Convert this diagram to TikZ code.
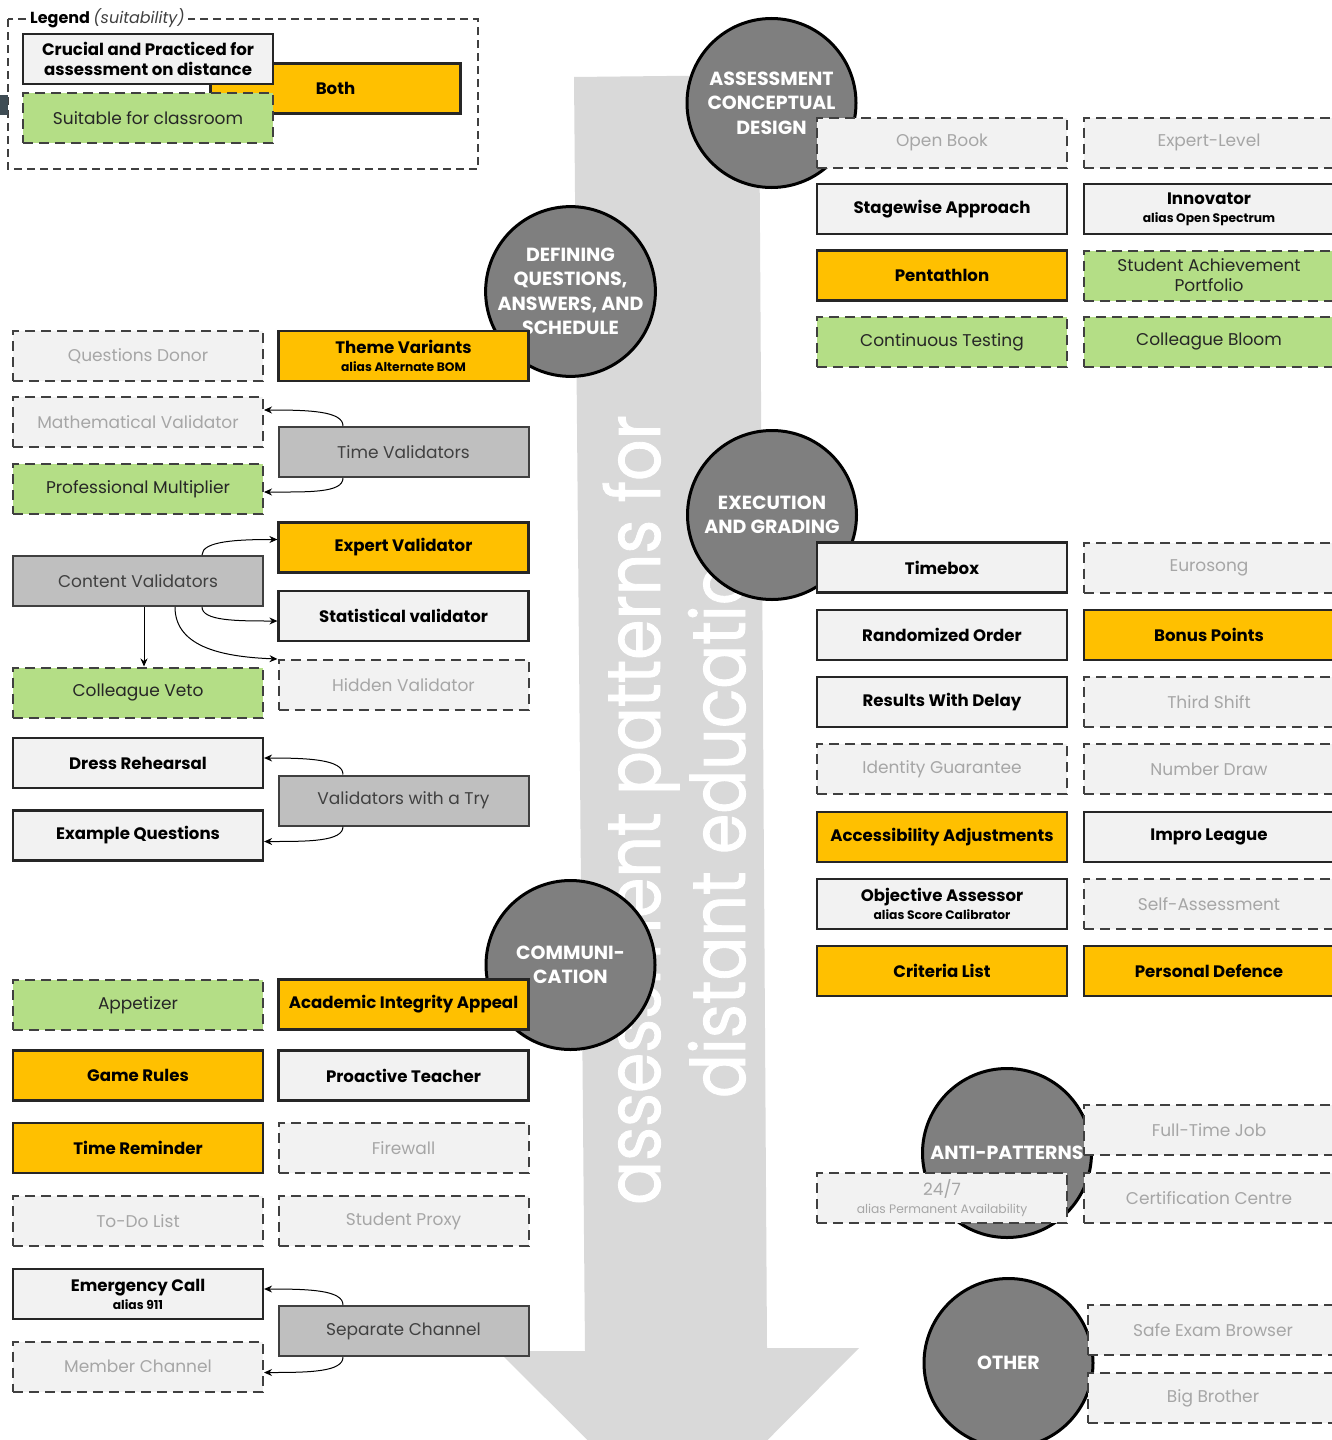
\documentclass[tikz,border=0pt]{standalone}
\usepackage{fontspec}
\setmainfont{Poppins}
\newfontfamily\bigfont{Poppins}[FakeBold=1.3]
\usetikzlibrary{arrows.meta}
\definecolor{lightf}{HTML}{F2F2F2}
\definecolor{orangef}{HTML}{FFC000}
\definecolor{greenf}{HTML}{B4DE86}
\definecolor{grayf}{HTML}{BFBFBF}
\definecolor{circf}{HTML}{7F7F7F}
\definecolor{arrowf}{HTML}{D9D9D9}
\definecolor{bordc}{HTML}{262626}
\definecolor{dashc}{HTML}{404040}
\definecolor{weakt}{HTML}{A6A6A6}
\definecolor{darkt}{HTML}{262626}
\definecolor{markc}{HTML}{3E4C54}
\newcommand\aliasline[1]{{\fontsize{12.3}{13}\selectfont #1}}
\newcommand\boxfont{\fontsize{17}{20}\selectfont}
\newcommand\boldboxfont{\fontsize{16.6}{20}\selectfont\bfseries}
\tikzset{
  pbox/.style={minimum width=250pt, minimum height=50pt, inner sep=0pt, align=center},
  crucial/.style={pbox, fill=lightf, draw=bordc, line width=2.2pt, font=\boldboxfont, text=black},
  both/.style={pbox, fill=orangef, draw=bordc, line width=2.2pt, font=\boldboxfont, text=black},
  suit/.style={pbox, fill=greenf, draw=dashc, line width=2pt, dash pattern=on 10pt off 6pt, font=\boxfont, text=darkt},
  weak/.style={pbox, fill=lightf, draw=dashc, line width=2pt, dash pattern=on 10pt off 6pt, font=\boxfont, text=weakt},
  grp/.style={pbox, fill=grayf, draw=dashc, line width=2pt, font=\boxfont, text=dashc},
  phase/.style={circle, fill=circf, draw=black, line width=3pt, minimum size=169pt, inner sep=0pt, align=center, text=white, font=\fontsize{19}{24.5}\selectfont\bfseries},
  conn/.style={draw=black, line width=1pt, -{Stealth[length=8pt,width=7pt]}},
  bigtext/.style={rotate=90, anchor=base, text=white, font=\bigfont\fontsize{65}{80}\selectfont}
}
\begin{document}
\begin{tikzpicture}[x=1pt,y=-1pt]
\useasboundingbox (0,0) rectangle (1332,1440);
\clip (0,0) rectangle (1332,1440);
\fill[white] (0,0) rectangle (1332,1440);

% big arrow
\fill[arrowf] (574,77) -- (759,75) -- (767,1348) -- (859,1348) -- (678,1530) -- (498,1351) -- (585,1351) -- cycle;
\node[bigtext] (t1) at (660,810) {\scalebox{1}[1.15]{assessment patterns for}};
\node[bigtext] (t2) at (745,810) {\scalebox{1}[1.15]{distant education}};

% legend
\draw[dashc, line width=1.5pt, dash pattern=on 8pt off 5pt] (8,19) rectangle (478,169);
\node[fill=white, anchor=west, inner sep=3pt, font=\fontsize{16}{18}\selectfont] (lt) at (27,18) {\bfseries Legend \mdseries\itshape\color{dashc}(suitability)};
\node[both] (lb) at (335.5,88.5) {Both};
\node[crucial] (lc) at (148,59) {Crucial and Practiced for\\assessment on distance};
\node[suit] (ls) at (148,118) {Suitable for classroom};
\fill[markc] (0,95) rectangle (8,115);

% phase circles
\node[phase] (c1) at (771.5,103) {ASSESSMENT\\CONCEPTUAL\\DESIGN};
\node[phase] (c2) at (570.5,291.5) {DEFINING\\QUESTIONS,\\ANSWERS, AND\\SCHEDULE};
\node[phase] (c3) at (772,515) {EXECUTION\\AND GRADING};
\node[phase] (c4) at (570.5,965) {COMMUNI-\\CATION};
\node[phase] (c5) at (1007,1153) {ANTI-PATTERNS};
\fill[circf] (1080,1355) rectangle (1092,1372);
\draw[black, line width=2pt] (1092,1355) -- (1092,1372);
\node[phase] (c6) at (1008.5,1363) {OTHER};

% assessment conceptual design
\node[weak] (ob) at (942,142.5) {Open Book};
\node[weak] (el) at (1209,142.5) {Expert-Level};
\node[crucial] (sa) at (942,209) {Stagewise Approach};
\node[crucial] (inn) at (1209,209) {Innovator\\[-2pt]\aliasline{alias Open Spectrum}};
\node[both] (pent) at (942,275.5) {Pentathlon};
\node[suit] (sap) at (1209,275.5) {Student Achievement\\Portfolio};
\node[suit] (ct) at (942,342) {Continuous Testing};
\node[suit] (cb) at (1209,342) {Colleague Bloom};

% execution and grading
\node[crucial] (tb) at (942,567.5) {Timebox};
\node[weak] (eu) at (1209,567.5) {Eurosong};
\node[crucial] (ro) at (942,634.8) {Randomized Order};
\node[both] (bp) at (1209,634.8) {Bonus Points};
\node[crucial] (rwd) at (942,702.1) {Results With Delay};
\node[weak] (ts) at (1209,702.1) {Third Shift};
\node[weak] (ig) at (942,769.4) {Identity Guarantee};
\node[weak] (nd) at (1209,769.4) {Number Draw};
\node[both] (aa) at (942,836.7) {Accessibility Adjustments};
\node[crucial] (il) at (1209,836.7) {Impro League};
\node[crucial] (oa) at (942,904) {Objective Assessor\\[-2pt]\aliasline{alias Score Calibrator}};
\node[weak] (sas) at (1209,904) {Self-Assessment};
\node[both] (cl) at (942,971.3) {Criteria List};
\node[both] (pd) at (1209,971.3) {Personal Defence};

% anti-patterns and other
\node[weak] (ftj) at (1209,1130) {Full-Time Job};
\node[weak] (cc) at (1209,1198) {Certification Centre};
\node[weak] (tf) at (942,1198) {24/7\\[-2pt]\aliasline{alias Permanent Availability}};
\node[weak] (seb) at (1213,1330) {Safe Exam Browser};
\node[weak] (bb) at (1213,1398) {Big Brother};

% defining questions
\node[weak] (qd) at (138,356) {Questions Donor};
\node[both] (tvar) at (403.5,356) {Theme Variants\\[-2pt]\aliasline{alias Alternate BOM}};
\node[weak] (mv) at (138,422) {Mathematical Validator};
\node[grp] (tv) at (403.5,452) {Time Validators};
\node[suit] (pm) at (138,489) {Professional Multiplier};
\node[both] (ev) at (403.5,547.5) {Expert Validator};
\node[grp] (cv) at (138,581) {Content Validators};
\node[crucial] (sv) at (403.5,616) {Statistical validator};
\node[weak] (hv) at (403.5,685) {Hidden Validator};
\node[suit] (veto) at (138,692.5) {Colleague Veto};
\node[crucial] (dr) at (138,763) {Dress Rehearsal};
\node[grp] (vwt) at (403.5,800.5) {Validators with a Try};
\node[crucial] (eq) at (138,835.5) {Example Questions};

% communication
\node[suit] (app) at (138,1005) {Appetizer};
\node[both] (aia) at (403.5,1004.5) {Academic Integrity Appeal};
\node[both] (gr) at (138,1075.5) {Game Rules};
\node[crucial] (pt) at (403.5,1075.5) {Proactive Teacher};
\node[both] (trem) at (138,1148) {Time Reminder};
\node[weak] (fw) at (403.5,1148) {Firewall};
\node[weak] (todo) at (138,1221) {To-Do List};
\node[weak] (sp) at (403.5,1221) {Student Proxy};
\node[crucial] (ec) at (138,1294) {Emergency Call\\[-2pt]\aliasline{alias 911}};
\node[grp] (sc) at (403.5,1331) {Separate Channel};
\node[weak] (mc) at (138,1366.5) {Member Channel};

% connectors
\draw[conn] ([xshift=-60.5pt]tv.north) .. controls +(0,-15) and +(45,0) .. ([yshift=12pt]mv.east);
\draw[conn] ([xshift=-60.5pt]tv.south) .. controls +(0,15) and +(45,0) .. ([yshift=-3pt]pm.east);
\draw[conn] ([xshift=64pt]cv.north) .. controls +(0,-14) and +(-40,0) .. ([yshift=8pt]ev.west);
\draw[conn] ([xshift=64pt]cv.south) .. controls +(0,14) and +(-40,0) .. ([yshift=-5pt]sv.west);
\draw[conn] ([xshift=37pt]cv.south) .. controls +(0,42) and +(-50,-2) .. (hv.north west);
\draw[conn] ([xshift=6pt]cv.south) -- ([xshift=6pt]veto.north);
\draw[conn] ([xshift=-60.5pt]vwt.north) .. controls +(0,-15) and +(45,0) .. ([yshift=5pt]dr.east);
\draw[conn] ([xshift=-60.5pt]vwt.south) .. controls +(0,15) and +(45,0) .. ([yshift=-6pt]eq.east);
\draw[conn] ([xshift=-60.5pt]sc.north) .. controls +(0,-15) and +(45,0) .. ([yshift=5pt]ec.east);
\draw[conn] ([xshift=-60.5pt]sc.south) .. controls +(0,15) and +(45,0) .. ([yshift=-6pt]mc.east);
\end{tikzpicture}
\end{document}
